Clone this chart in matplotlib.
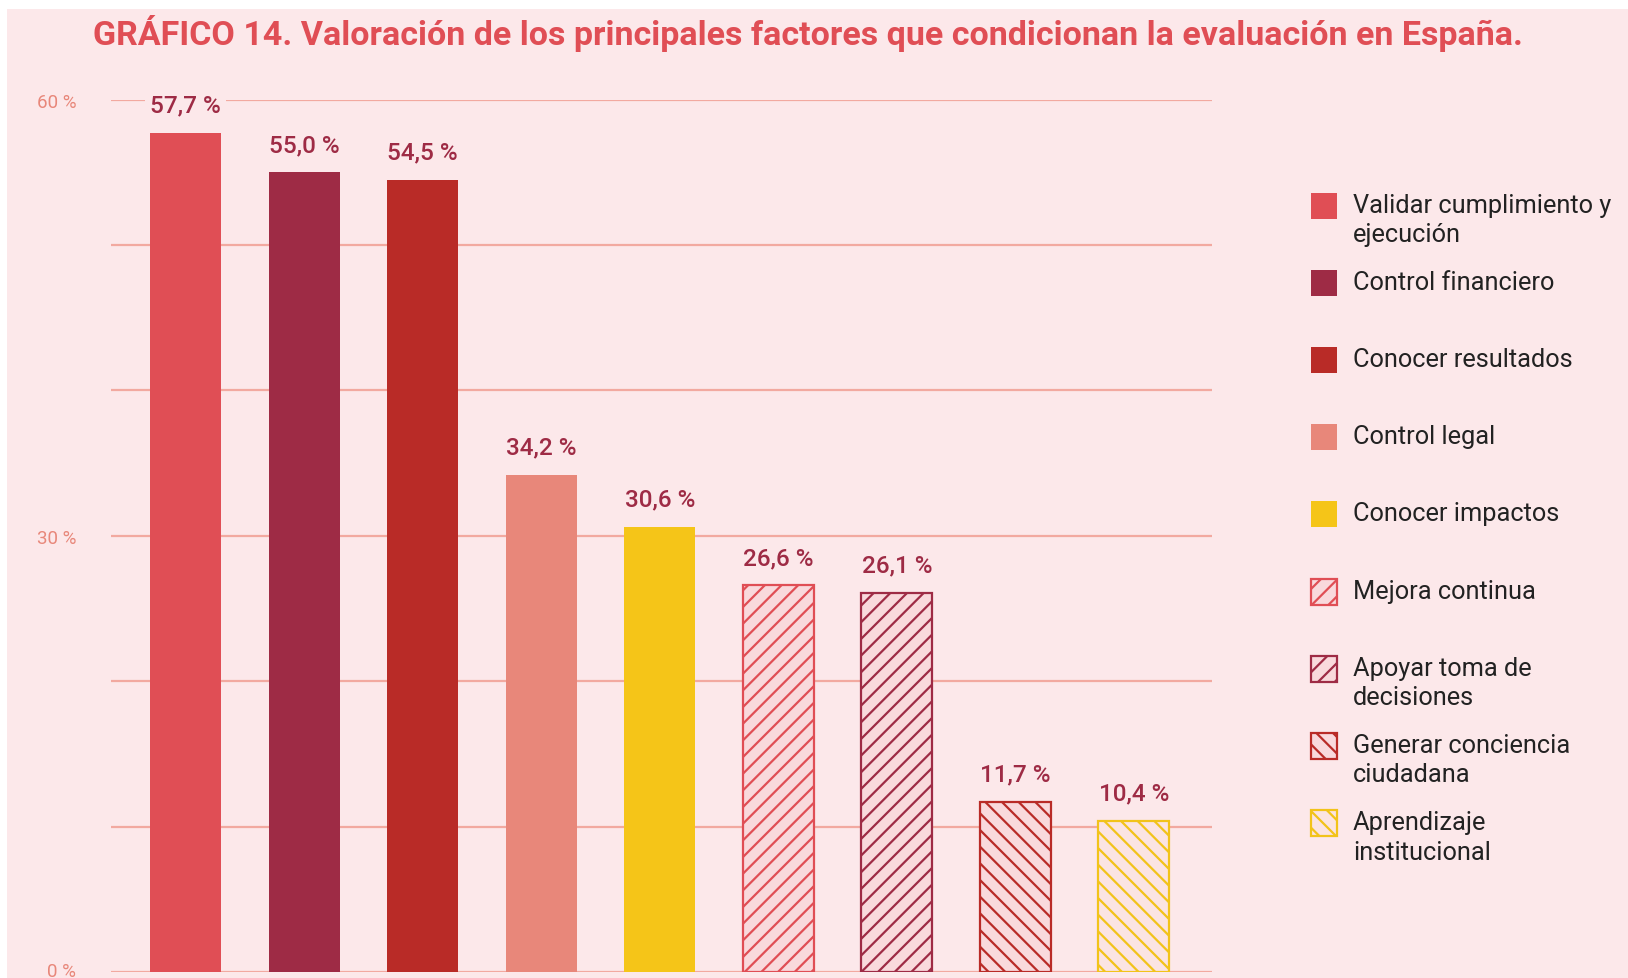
import matplotlib
matplotlib.use("Agg")
import matplotlib.pyplot as plt
import matplotlib.transforms as mtransforms
from matplotlib.patches import Rectangle

categories = ["Validar cumplimiento y\nejecución", "Control financiero", "Conocer resultados",
              "Control legal", "Conocer impactos", "Mejora continua",
              "Apoyar toma de\ndecisiones", "Generar conciencia\nciudadana",
              "Aprendizaje\ninstitucional"]
values = [57.7, 55.0, 54.5, 34.2, 30.6, 26.6, 26.1, 11.7, 10.4]
value_labels = ["57,7 %", "55,0 %", "54,5 %", "34,2 %", "30,6 %", "26,6 %", "26,1 %", "11,7 %", "10,4 %"]
edge_colors = ["#E04E55", "#9E2B45", "#B92B27", "#E8877A", "#F5C518",
               "#E04E55", "#9E2B45", "#B92B27", "#F2C31A"]
face_colors = ["#E04E55", "#9E2B45", "#B92B27", "#E8877A", "#F5C518",
               "#F9D9DC", "#F9D9DC", "#F9D9DC", "#FBE4E2"]
hatches = [None, None, None, None, None, "//", "//", "\\\\", "\\\\"]
yticks = [0, 10, 20, 30, 40, 50, 60]
ytick_labels = ["0 %", "", "", "30 %", "", "", "60 %"]

BG = "#FCE8EA"
W, H = 1628, 979
plt.rcParams["font.family"] = ["Roboto", "DejaVu Sans"]
plt.rcParams["hatch.linewidth"] = 1.6

fig = plt.figure(figsize=(W / 100, H / 100), dpi=100, facecolor="white")
fig.patches.append(Rectangle((7 / W, 0), 1 - 7 / W, 1 - 10 / H, transform=fig.transFigure,
                             facecolor=BG, edgecolor="none", zorder=-10))

ax = fig.add_axes([111 / W, 6 / H, 1101 / W, (973 - 100.7) / H])
ax.set_facecolor("none")
for i, v in enumerate(values):
    ax.bar(i, v, width=0.6, color=face_colors[i], edgecolor=edge_colors[i],
           linewidth=1.6 if hatches[i] else 0, hatch=hatches[i], zorder=3)
    ax.annotate(value_labels[i], (i, v), xytext=(0, 20), textcoords="offset points",
                ha="center", va="center", fontsize=17.5, color="#9E2B45", fontweight="medium",
                bbox=dict(boxstyle="square,pad=0.2", facecolor=BG, edgecolor="none"), zorder=4)

ax.set_xlim(-0.63, 8.66)
ax.set_ylim(0, 60)
ax.set_yticks(yticks)
ax.set_yticklabels(ytick_labels)
ax.tick_params(axis="y", length=0, pad=25, labelsize=13.5, labelcolor="#E8877A")
ax.set_xticks([])
ax.grid(axis="y", color="#F2A9A0", linewidth=1.6, zorder=0)
ax.set_axisbelow(True)
for s in ax.spines.values():
    s.set_visible(False)
# keep the "0 %" label inside the picture
lbl0 = ax.get_yticklabels()[0]
lbl0.set_transform(lbl0.get_transform() + mtransforms.ScaledTranslation(0, 3 / 100, fig.dpi_scale_trans))

# Title
fig.text(808 / W, 1 - 34 / H, "GRÁFICO 14. Valoración de los principales factores que condicionan la evaluación en España.",
         ha="center", va="center", fontsize=24.5, fontweight="bold", color="#E04E55")

# Legend (manual)
sq = 26
for i, lab in enumerate(categories):
    yc = 206.6 + i * 77.2
    fig.patches.append(Rectangle((1311 / W, 1 - (yc + sq / 2) / H), sq / W, sq / H,
                                 transform=fig.transFigure, facecolor=face_colors[i],
                                 edgecolor=edge_colors[i], linewidth=1.6 if hatches[i] else 0,
                                 hatch=hatches[i]))
    for k, line in enumerate(lab.split("\n")):
        fig.text(1353 / W, 1 - (yc - 1 + k * 29.5) / H, line, ha="left", va="center",
                 fontsize=18.3, color="#222222")

fig.savefig("out.png", dpi=100, facecolor=fig.get_facecolor())
